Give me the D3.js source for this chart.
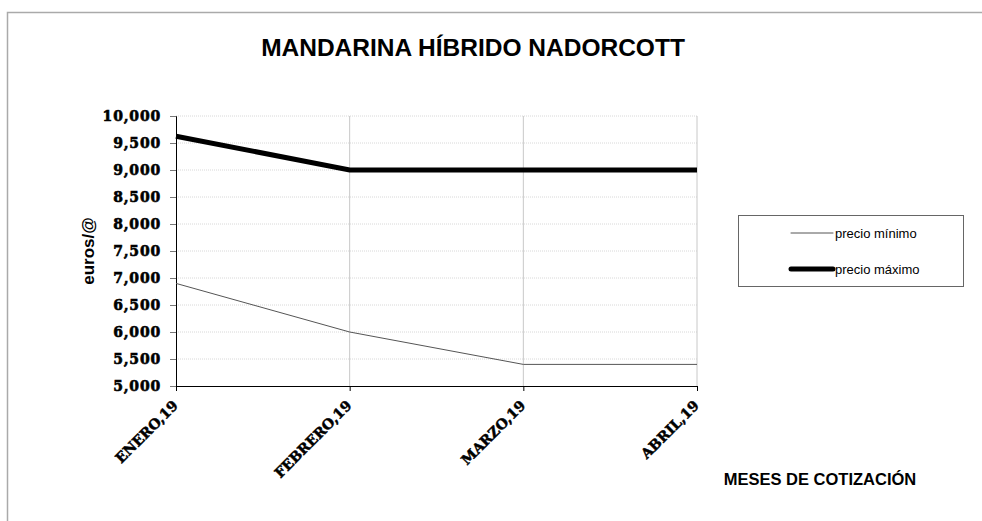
<!DOCTYPE html>
<html>
<head>
<meta charset="utf-8">
<script src="https://cdn.jsdelivr.net/npm/d3@7"></script>
<style>
  body { margin: 0; background: #fff; }
  svg { display: block; }
</style>
</head>
<body>
<svg id="chart" width="982" height="521"></svg>
<script>
// datos (euros/@)
const meses = ['ENERO,19', 'FEBRERO,19', 'MARZO,19', 'ABRIL,19'];
const precioMinimo = [6.9, 6.0, 5.4, 5.4];
const precioMaximo = [9.625, 9.0, 9.0, 9.0];
const yTicks = [5, 5.5, 6, 6.5, 7, 7.5, 8, 8.5, 9, 9.5, 10];

const svg = d3.select('#chart');
const mLeft = 176, mRight = 697, mTop = 116, mBottom = 386;

// marco exterior
svg.append('rect')
  .attr('x', 7.5).attr('y', 12.5)
  .attr('width', 1000).attr('height', 600)
  .attr('fill', 'none').attr('stroke', '#aaa').attr('stroke-width', 1.5);

svg.append('text')
  .attr('x', 473).attr('y', 56)
  .attr('text-anchor', 'middle')
  .style('font-family', 'Liberation Sans, Arial, sans-serif')
  .style('font-weight', 'bold').style('font-size', '24.5px')
  .text('MANDARINA HÍBRIDO NADORCOTT');

const x = d3.scalePoint().domain(meses).range([mLeft, mRight]);
const y = d3.scaleLinear().domain([5, 10]).range([mBottom, mTop]);

const fmt = v => d3.format('.3f')(v).replace('.', ',');

// rejilla horizontal
svg.append('g').selectAll('line')
  .data(yTicks.slice(1))
  .enter().append('line')
  .attr('x1', mLeft).attr('x2', mRight)
  .attr('y1', d => y(d)).attr('y2', d => y(d))
  .attr('stroke', '#d8d8d8').attr('stroke-dasharray', '1,1');

// rejilla vertical
svg.append('g').selectAll('line')
  .data(meses.slice(1))
  .enter().append('line')
  .attr('x1', d => x(d)).attr('x2', d => x(d))
  .attr('y1', mTop).attr('y2', mBottom)
  .attr('stroke', '#c8c8c8');

const yAxis = svg.append('g')
  .attr('transform', `translate(${mLeft},0)`)
  .call(d3.axisLeft(y).tickValues(yTicks).tickFormat(fmt).tickSize(6).tickPadding(9));
yAxis.select('.domain').attr('stroke', '#000');
yAxis.selectAll('.tick line').attr('stroke', '#777');
yAxis.selectAll('text')
  .style('font-family', 'DejaVu Serif, serif')
  .style('font-weight', 'bold').style('font-size', '14px')
  .style('letter-spacing', '0.8px')
  .attr('fill', '#000').attr('stroke', '#000').attr('stroke-width', 0.6);

const xAxis = svg.append('g')
  .attr('transform', `translate(0,${mBottom})`)
  .call(d3.axisBottom(x).tickSize(5).tickSizeOuter(0));
xAxis.select('.domain').attr('stroke', '#000');
xAxis.selectAll('.tick line').attr('stroke', '#000');
xAxis.selectAll('text')
  .attr('text-anchor', 'end')
  .attr('transform', 'translate(-1,17) rotate(-45)')
  .attr('dy', '0.35em')
  .attr('y', 0)
  .style('font-family', 'DejaVu Serif, serif')
  .style('font-weight', 'bold').style('font-size', '14px')
  .attr('fill', '#000').attr('stroke', '#000').attr('stroke-width', 0.5);

svg.append('text')
  .attr('transform', 'translate(94,251) rotate(-90)')
  .attr('text-anchor', 'middle')
  .style('font-family', 'Liberation Sans, Arial, sans-serif')
  .style('font-weight', 'bold').style('font-size', '17px')
  .text('euros/@');

svg.append('text')
  .attr('x', 820).attr('y', 485)
  .attr('text-anchor', 'middle')
  .style('font-family', 'Liberation Sans, Arial, sans-serif')
  .style('font-weight', 'bold').style('font-size', '16.5px')
  .text('MESES DE COTIZACIÓN');

const line = d3.line().x((d, i) => x(meses[i])).y(d => y(d));

svg.append('path').datum(precioMinimo)
  .attr('d', line).attr('fill', 'none')
  .attr('stroke', '#555').attr('stroke-width', 1);

svg.append('path').datum(precioMaximo)
  .attr('d', line).attr('fill', 'none')
  .attr('stroke', '#000').attr('stroke-width', 5);

// leyenda
const leg = svg.append('g');
leg.append('rect')
  .attr('x', 738.5).attr('y', 215.5).attr('width', 225).attr('height', 71)
  .attr('fill', '#fff').attr('stroke', '#666');
const series = [
  { name: 'precio mínimo', w: 1, c: '#555', yy: 233 },
  { name: 'precio máximo', w: 5, c: '#000', yy: 269 }
];
series.forEach(s => {
  leg.append('line')
    .attr('x1', 791).attr('x2', 833).attr('y1', s.yy).attr('y2', s.yy)
    .attr('stroke', s.c).attr('stroke-width', s.w).attr('stroke-linecap', 'round');
  leg.append('text')
    .attr('x', 835).attr('y', s.yy).attr('dy', '0.35em')
    .style('font-family', 'Liberation Sans, Arial, sans-serif')
    .style('font-size', '13px')
    .text(s.name);
});
</script>
</body>
</html>
